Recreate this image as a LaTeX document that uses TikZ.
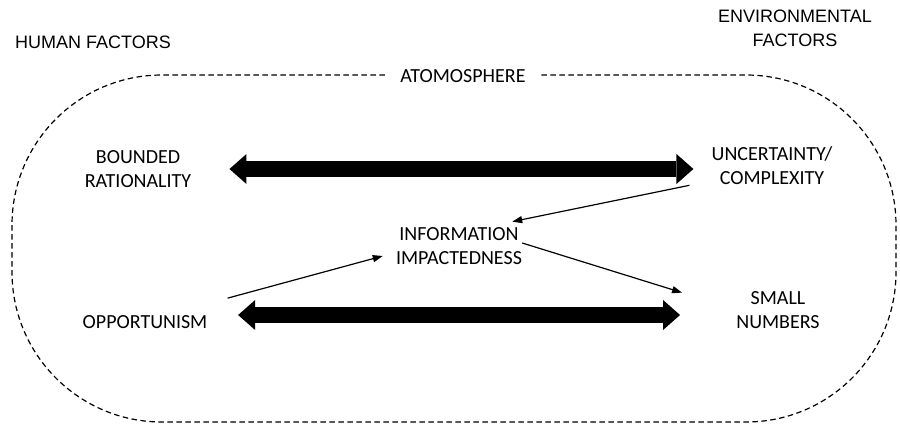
\documentclass[tikz,border=0pt]{standalone}
\usepackage{fontspec}
\setmainfont{Carlito}
\newfontfamily\headfont{Liberation Sans}
\usetikzlibrary{arrows.meta}

\begin{document}
\begin{tikzpicture}[
            x = 1pt, y = -1pt, % pixel grid, y pointing down
            > = {Triangle[length=10pt, width=7pt]}, % thin arrow head
            semithick % line style
        ]

        \tikzstyle{concept}=[
            align = center,
            inner sep = 0pt,
            font = \fontsize{20}{24}\selectfont
        ]
        \tikzstyle{heading}=[concept, font = \headfont\fontsize{18}{24}\selectfont]
        \tikzstyle{bigarrow}=[
            line width = 16pt,
            arrows = {Triangle[length=17pt, width=30pt, line width=0pt]-Triangle[length=17pt, width=30pt, line width=0pt]}
        ]
        \tikzstyle{thinarrow}=[->, line width = 1.2pt]

        \useasboundingbox (0,0) rectangle (900,426);

        % Atmosphere
        \draw[dash pattern = on 5.5pt off 3.5pt, line width = 1.2pt, rounded corners = 150pt] (12,75) rectangle (896,422);
        \node[concept, fill = white, inner xsep = 15pt] (atmo) [at={(463,76)}] {ATOMOSPHERE};

        % Headings
        \node[heading] (human) [at={(93,42)}] {HUMAN FACTORS};
        \node[heading] (env) [at={(795,28)}] {ENVIRONMENTAL\\FACTORS};

        % Factors
        \node[concept] (bounded) [at={(138,169)}] {BOUNDED\\RATIONALITY};
        \node[concept] (uncert) [at={(772,166)}] {UNCERTAINTY/\\COMPLEXITY};
        \node[concept] (info) [at={(459,246.5)}] {INFORMATION\\IMPACTEDNESS};
        \node[concept] (opport) [at={(145,322)}] {OPPORTUNISM};
        \node[concept] (small) [at={(778,310)}] {SMALL\\NUMBERS};

        % Links
        \draw[bigarrow, shorten <= 38pt, shorten >= 18pt] (bounded.east) -- (bounded.east -| uncert.west);
        \draw[bigarrow, shorten <= 30.5pt, shorten >= 56pt] ([yshift=7pt]opport.east) -- ([yshift=7pt]opport.east -| small.west);
        \draw[thinarrow] ([xshift=-22pt]uncert.south west) -- ([xshift=-10pt, yshift=6pt]info.north east);
        \draw[thinarrow] ([xshift=20pt, yshift=17pt]opport.north east) -- ([xshift=-13pt, yshift=-9.5pt]info.west);
        \draw[thinarrow] ([yshift=3.5pt]info.east) -- ([xshift=-54pt, yshift=-1.5pt]small.north west);
      \end{tikzpicture}
\end{document}
